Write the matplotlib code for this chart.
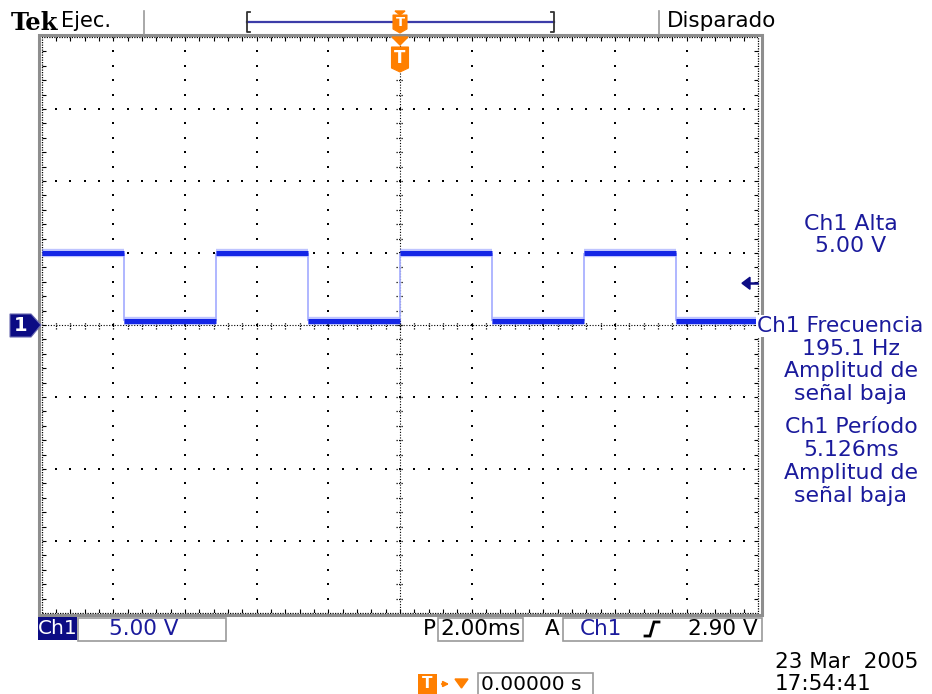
import matplotlib
matplotlib.use("Agg")
import matplotlib.pyplot as plt
from matplotlib.patches import Polygon, Rectangle
import numpy as np

# ---- acquisition settings / readings ----
time_per_div_ms = 2.0
volts_per_div = 5.0
n_hdiv, n_vdiv = 10, 8

# square wave: edges (ms) and the level held after each boundary (V)
edge_times_ms = [-7.689, -5.126, -2.563, 0.0, 2.563, 5.126, 7.689]
segment_levels_v = [5.0, 0.25, 5.0, 0.25, 5.0, 0.25, 5.0, 0.25]
trigger_level_v = 2.90

header_left = "Ejec."
header_right = "Disparado"
measure_lines = ["Ch1 Alta", "5.00 V",
                 "Ch1 Frecuencia", "195.1 Hz", "Amplitud de", "señal baja",
                 "Ch1 Período", "5.126ms", "Amplitud de", "señal baja"]
measure_y_px = [224, 246, 326, 349, 371, 394, 427, 450, 473, 496]
ch_scale_label = "5.00 V"
time_scale_label = "2.00ms"
trig_label = "2.90 V"
date_label = "23 Mar  2005"
time_label = "17:54:41"
pos_label = "0.00000 s"

NAVY = "#0c0c84"
TXT_BLUE = "#1a1a9c"
TRACE = "#1426e6"
ORANGE = "#ff7f00"
FONT = "DejaVu Sans"

W, H = 932, 694
fig = plt.figure(figsize=(W / 100, H / 100), dpi=100)
fig.patch.set_facecolor("white")

# graticule placement (pixels)
gl, gr, gt, gb = 41.5, 758.5, 37.0, 613.0
ax = fig.add_axes([gl / W, (H - gb) / H, (gr - gl) / W, (gb - gt) / H])
xmax = time_per_div_ms * n_hdiv / 2
ymax = volts_per_div * n_vdiv / 2
ax.set_xlim(-xmax, xmax)
ax.set_ylim(-ymax, ymax)
ax.axis("off")

# overlay in pixel coordinates for the instrument readouts
ov = fig.add_axes([0, 0, 1, 1], zorder=5)
ov.set_xlim(0, W)
ov.set_ylim(H, 0)
ov.axis("off")
ov.patch.set_alpha(0)

# ---- graticule ----
xdiv = np.arange(-xmax, xmax + 1e-9, time_per_div_ms)
ydiv = np.arange(-ymax, ymax + 1e-9, volts_per_div)
xminor = np.arange(-xmax, xmax + 1e-9, time_per_div_ms / 5)
yminor = np.arange(-ymax, ymax + 1e-9, volts_per_div / 5)

dots_x, dots_y = [], []
for gx in xdiv[1:-1]:
    if abs(gx) < 1e-9:
        continue
    dots_x += [gx] * len(yminor[1:-1])
    dots_y += list(yminor[1:-1])
for gy in ydiv[1:-1]:
    if abs(gy) < 1e-9:
        continue
    dots_x += list(xminor[1:-1])
    dots_y += [gy] * len(xminor[1:-1])
ax.plot(dots_x, dots_y, ls="none", marker="s", ms=1.5, mew=0, color="black", zorder=2)

# center cross with fine dotted line and minor ticks
ax.axhline(0, color="black", lw=0.8, ls=(0, (1, 1.5)), zorder=2)
ax.axvline(0, color="black", lw=0.8, ls=(0, (1, 1.5)), zorder=2)
ty = 3.5 / 72 * volts_per_div
tx = 3.5 / (717 / n_hdiv) * time_per_div_ms
ax.vlines(xminor[1:-1], -ty, ty, color="black", lw=0.9, ls=(0, (1, 1)), zorder=2)
ax.hlines(yminor[1:-1], -tx, tx, color="black", lw=0.9, ls=(0, (1, 1)), zorder=2)

# border with inward ticks
ax.add_patch(Rectangle((-xmax, -ymax), 2 * xmax, 2 * ymax, fill=False,
                       ec="black", lw=0.9, ls=(0, (1, 1)), zorder=2, clip_on=False))
tlx = 4 / (717 / n_hdiv) * time_per_div_ms
tly = 4 / 72 * volts_per_div
ax.vlines(xminor[1:-1], ymax - tly, ymax, color="black", lw=0.8, zorder=2)
ax.vlines(xminor[1:-1], -ymax, -ymax + tly, color="black", lw=0.8, zorder=2)
ax.hlines(yminor[1:-1], -xmax, -xmax + tlx, color="black", lw=0.8, zorder=2)
ax.hlines(yminor[1:-1], xmax - tlx, xmax, color="black", lw=0.8, zorder=2)

# grey bezel round the graticule
ov.add_patch(Rectangle((38.5, 34.5), 723, 580, fill=False, ec="#8e8e8e", lw=2.2, zorder=1))

# ---- trace ----
bounds = [-xmax] + edge_times_ms + [xmax]
starts, ends = bounds[:-1], bounds[1:]
ax.hlines(segment_levels_v, starts, ends, color="#6f7dff", lw=6.0, alpha=0.45, zorder=3)
ax.hlines(segment_levels_v, starts, ends, color=TRACE, lw=3.6, zorder=4)
for i, t in enumerate(edge_times_ms):
    lo, hi = sorted([segment_levels_v[i], segment_levels_v[i + 1]])
    ax.vlines(t, lo, hi, color="#a9b1ff", lw=1.3, zorder=3)

# ---- header ----
ov.text(11, 30, "Tek", fontsize=17.5, fontweight="bold", family="DejaVu Serif",
        va="baseline", ha="left", color="black")
ov.text(61, 21, header_left, fontsize=15, family=FONT, va="center", ha="left")
ov.plot([143.5, 143.5], [11, 34], color="#9a9a9a", lw=1.2)
ov.plot([658.5, 658.5], [11, 34], color="#9a9a9a", lw=1.2)
ov.text(667, 21, header_right, fontsize=15.5, family=FONT, va="center", ha="left")

# record-length bar with brackets
BAR = "#3c3ca8"
ov.plot([247, 554], [22, 22], color=BAR, lw=1.6)
ov.plot([250, 247, 247, 250], [12, 12, 32, 32], color="#333333", lw=1.3)
ov.plot([551, 554, 554, 551], [12, 12, 32, 32], color="#333333", lw=1.3)


def t_marker(cx, top, bottom, half=7, size=9.5):
    body = [(cx - half, top), (cx + half, top), (cx + half, bottom - 4),
            (cx, bottom), (cx - half, bottom - 4)]
    ov.add_patch(Polygon(body, closed=True, fc=ORANGE, ec=ORANGE, lw=0.8, zorder=6))
    ov.text(cx, (top + bottom - 3) / 2, "T", color="white", fontsize=size,
            fontweight="bold", ha="center", va="center", family=FONT, zorder=7)


# trigger position markers
ov.add_patch(Polygon([(395, 11), (405, 11), (400, 15)], fc=ORANGE, ec=ORANGE, zorder=6))
t_marker(400, 15, 33)
ov.add_patch(Polygon([(392, 37), (408, 37), (400, 45)], fc=ORANGE, ec=ORANGE, zorder=6))
t_marker(400, 47, 72, half=8.5, size=12)

# channel 1 ground marker
ov.add_patch(Polygon([(10, 314), (31, 314), (41, 325), (31, 337), (10, 337)],
                     fc=NAVY, ec="#6a6ab0", lw=0.8, zorder=6))
ov.text(20.5, 325.5, "1", color="white", fontsize=14, fontweight="bold",
        ha="center", va="center", family=FONT, zorder=7)

# trigger level arrow
ty_px = 325 - trigger_level_v / volts_per_div * 72
ov.add_patch(Polygon([(742, ty_px), (750, ty_px - 6), (750, ty_px + 6)],
                     fc=NAVY, ec=NAVY, zorder=6))
ov.plot([749, 757], [ty_px, ty_px], color=NAVY, lw=1.8, zorder=6)

# ---- measurement readouts ----
for txt, yy in zip(measure_lines, measure_y_px):
    if txt == "Ch1 Frecuencia":
        # this line is wider than the column and runs up to the graticule edge
        ov.text(757, yy, txt, color=TXT_BLUE, fontsize=15.6, family=FONT,
                ha="left", va="center", zorder=8,
                bbox=dict(boxstyle="square,pad=0.05", fc="white", ec="none"))
    else:
        ov.text(851, yy, txt, color=TXT_BLUE, fontsize=15.8, family=FONT,
                ha="center", va="center", zorder=8)

# ---- bottom status row ----
BS = 15.5
ov.add_patch(Rectangle((38, 617), 39, 23, fc=NAVY, ec="none", zorder=6))
ov.text(57.5, 629, "Ch1", color="white", fontsize=14.5, family=FONT,
        ha="center", va="center", zorder=7)
ov.add_patch(Rectangle((77.5, 617.5), 148, 23, fc="white", ec="#9a9a9a", lw=1.2, zorder=6))
ov.text(109, 629, ch_scale_label, color=TXT_BLUE, fontsize=BS, family=FONT,
        ha="left", va="center", zorder=7)

ov.text(423, 629, "P", color="black", fontsize=BS, family=FONT,
        ha="left", va="center", zorder=7)
ov.add_patch(Rectangle((437.5, 617.5), 85, 23, fc="white", ec="#9a9a9a", lw=1.2, zorder=6))
ov.text(440, 629, time_scale_label, color="black", fontsize=BS, family=FONT,
        ha="left", va="center", zorder=7)

ov.text(545, 629, "A", color="black", fontsize=BS, family=FONT,
        ha="left", va="center", zorder=7)
ov.add_patch(Rectangle((562.5, 617.5), 199, 23, fc="white", ec="#9a9a9a", lw=1.2, zorder=6))
ov.text(580, 629, "Ch1", color=TXT_BLUE, fontsize=BS, family=FONT,
        ha="left", va="center", zorder=7)
ov.plot([645, 650, 654, 659], [636, 636, 622, 622], color="black", lw=2.0,
        solid_joinstyle="miter", zorder=7)
ov.text(758, 629, trig_label, color="black", fontsize=BS, family=FONT,
        ha="right", va="center", zorder=7)

# date / time stamp
ov.text(775, 662, date_label, color="black", fontsize=15.5, family=FONT,
        ha="left", va="center")
ov.text(775, 684, time_label, color="black", fontsize=15.5, family=FONT,
        ha="left", va="center")

# horizontal position readout
ov.add_patch(Rectangle((418, 674), 19, 22, fc=ORANGE, ec="none", zorder=6))
ov.text(427.5, 684, "T", color="white", fontsize=11, fontweight="bold",
        family=FONT, ha="center", va="center", zorder=7)
ov.annotate("", xy=(452, 684), xytext=(439, 684),
            arrowprops=dict(arrowstyle="-|>", color=ORANGE, lw=1.3,
                            mutation_scale=8), zorder=7)
ov.add_patch(Polygon([(455, 679), (468, 679), (461.5, 688)], fc=ORANGE, ec=ORANGE, zorder=7))
ov.add_patch(Rectangle((477.5, 672.5), 115, 25, fc="white", ec="#9a9a9a", lw=1.2, zorder=6))
ov.text(481, 685, pos_label, color="black", fontsize=14.5, family=FONT,
        ha="left", va="center", zorder=7)

fig.savefig("out.png", dpi=100, facecolor="white")
